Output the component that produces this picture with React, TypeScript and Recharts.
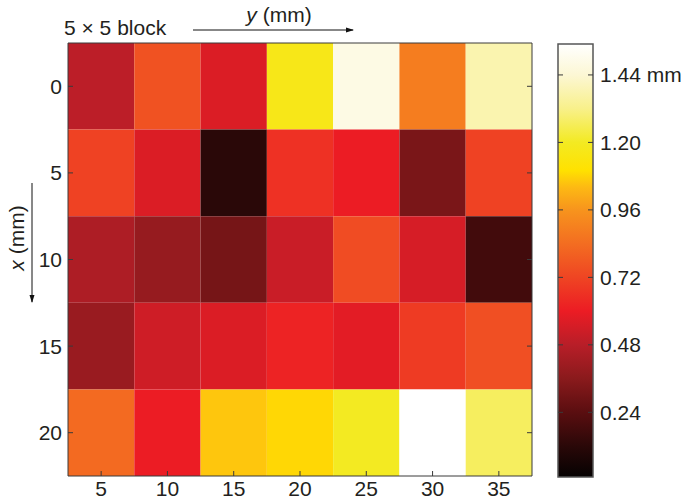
import React from "react";
import { ScatterChart, Scatter, XAxis, YAxis, ReferenceArea } from "recharts";

// column positions (y, mm) and row positions (x, mm)
const yCols = [5, 10, 15, 20, 25, 30, 35];
const xRows = [0, 5, 10, 15, 20];

// block values (mm), one list per row
const row0 = [0.49, 0.76, 0.56, 1.17, 1.48, 0.89, 1.38];
const row5 = [0.71, 0.56, 0.12, 0.66, 0.6, 0.32, 0.71];
const row10 = [0.45, 0.39, 0.31, 0.52, 0.74, 0.55, 0.18];
const row15 = [0.4, 0.53, 0.56, 0.62, 0.58, 0.69, 0.75];
const row20 = [0.83, 0.6, 1.06, 1.085, 1.2, 1.55, 1.27];
const rows = [row0, row5, row10, row15, row20];

const colorbarTicks = [0.24, 0.48, 0.72, 0.96, 1.2, 1.44];
const vMin = 0.01;
const vMax = 1.55;

// "hot"-like colormap
const cmap: [number, string][] = [
  [0.01, "#050202"],
  [0.12, "#2a0808"],
  [0.24, "#5a0e10"],
  [0.36, "#8a1a1c"],
  [0.48, "#b81e28"],
  [0.6, "#ec1c24"],
  [0.72, "#ef4523"],
  [0.84, "#f36d21"],
  [0.96, "#f7941d"],
  [1.04, "#fdb913"],
  [1.1, "#ffe100"],
  [1.2, "#f3ea22"],
  [1.32, "#f8f08a"],
  [1.44, "#fcf7d4"],
  [1.55, "#ffffff"],
];

const hex = (c: string) => [1, 3, 5].map((i) => parseInt(c.slice(i, i + 2), 16));
const colorFor = (v: number) => {
  if (v <= cmap[0][0]) return cmap[0][1];
  for (let i = 1; i < cmap.length; i++) {
    if (v <= cmap[i][0]) {
      const [a, ca] = cmap[i - 1];
      const [b, cb] = cmap[i];
      const t = (v - a) / (b - a);
      const A = hex(ca);
      const B = hex(cb);
      const m = A.map((x, k) => Math.round(x + (B[k] - x) * t));
      return `rgb(${m[0]},${m[1]},${m[2]})`;
    }
  }
  return cmap[cmap.length - 1][1];
};

const cells = rows.flatMap((r, i) =>
  r.map((v, j) => ({ y: yCols[j], x: xRows[i], v }))
);

const FONT = "'Liberation Sans', Arial, Helvetica, sans-serif";
const AXIS = "#3a3a3a";
const TXT = "#231f20";

const BottomTick = (props: any) => {
  const { x, y, payload } = props;
  return (
    <g>
      <line x1={x} y1={y} x2={x} y2={y - 5} stroke={AXIS} />
      <text x={x} y={y + 20} textAnchor="middle" fontSize={21} fill={TXT} fontFamily={FONT}>
        {payload.value}
      </text>
    </g>
  );
};

const LeftTick = (props: any) => {
  const { x, y, payload } = props;
  return (
    <g>
      <line x1={x} y1={y} x2={x + 5} y2={y} stroke={AXIS} />
      <text x={x - 6} y={y + 7.5} textAnchor="end" fontSize={21} fill={TXT} fontFamily={FONT}>
        {payload.value}
      </text>
    </g>
  );
};

const TopTickLine = (props: any) => (
  <line x1={props.x} y1={props.y} x2={props.x} y2={props.y + 5} stroke={AXIS} />
);
const RightTickLine = (props: any) => (
  <line x1={props.x} y1={props.y} x2={props.x - 5} y2={props.y} stroke={AXIS} />
);
const LeftTickLine = (props: any) => (
  <line x1={props.x} y1={props.y} x2={props.x + 5} y2={props.y} stroke={AXIS} />
);

const BarTick = (props: any) => {
  const { x, y, payload } = props;
  const v = Number(payload.value).toFixed(2);
  return (
    <g>
      <line x1={x} y1={y} x2={x - 5} y2={y} stroke={AXIS} />
      <text x={x + 7} y={y + 7.5} textAnchor="start" fontSize={21} fill={TXT} fontFamily={FONT}>
        {v === "1.44" ? "1.44 mm" : v}
      </text>
    </g>
  );
};

function Heatmap() {
  return (
    <ScatterChart width={560} height={500} margin={{ top: 42, right: 27, bottom: 0, left: 0 }}>
      <XAxis
        xAxisId="b"
        type="number"
        dataKey="y"
        domain={[2.5, 37.5]}
        ticks={yCols}
        allowDataOverflow
        height={24}
        tickSize={0}
        tickMargin={0}
        tickLine={false}
        stroke={AXIS}
        tick={<BottomTick />}
      />
      <XAxis
        xAxisId="t"
        orientation="top"
        type="number"
        domain={[2.5, 37.5]}
        ticks={yCols}
        allowDataOverflow
        height={1}
        tickSize={0}
        tickMargin={0}
        tickLine={false}
        stroke={AXIS}
        tick={<TopTickLine />}
      />
      <YAxis
        yAxisId="l"
        type="number"
        dataKey="x"
        reversed
        domain={[-2.5, 22.5]}
        ticks={xRows}
        allowDataOverflow
        width={68}
        tickSize={0}
        tickMargin={0}
        tickLine={false}
        stroke={AXIS}
        tick={<LeftTick />}
      />
      <YAxis
        yAxisId="r"
        orientation="right"
        type="number"
        reversed
        domain={[-2.5, 22.5]}
        ticks={xRows}
        allowDataOverflow
        width={1}
        tickSize={0}
        tickMargin={0}
        tickLine={false}
        stroke={AXIS}
        tick={<RightTickLine />}
      />
      {cells.map((c, i) => (
        <ReferenceArea
          key={i}
          xAxisId="b"
          yAxisId="l"
          x1={c.y - 2.5}
          x2={c.y + 2.5}
          y1={c.x - 2.5}
          y2={c.x + 2.5}
          fill={colorFor(c.v)}
          fillOpacity={1}
          stroke="none"
        />
      ))}
      <Scatter
        xAxisId="b"
        yAxisId="l"
        data={cells}
        isAnimationActive={false}
        shape={() => <g />}
      />
    </ScatterChart>
  );
}

// gradient stops must run in increasing offset order (top = max value)
const gradStops = [...cmap].reverse().map(([v, c]) => ({
  offset: `${((vMax - v) / (vMax - vMin)) * 100}%`,
  color: c,
}));

function Colorbar() {
  const barData = [{ a: 0.5, b: vMin }, { a: 0.5, b: vMax }];
  return (
    <ScatterChart width={153} height={500} margin={{ top: 44, right: 0, bottom: 23, left: 0 }}>
      <XAxis type="number" dataKey="a" domain={[0, 1]} hide />
      <YAxis
        yAxisId="l"
        type="number"
        domain={[vMin, vMax]}
        ticks={colorbarTicks}
        allowDataOverflow
        width={18}
        tickSize={0}
        tickMargin={0}
        tickLine={false}
        axisLine={false}
        tick={<LeftTickLine />}
      />
      <YAxis
        yAxisId="r"
        orientation="right"
        type="number"
        dataKey="b"
        domain={[vMin, vMax]}
        ticks={colorbarTicks}
        allowDataOverflow
        width={100}
        tickSize={0}
        tickMargin={0}
        tickLine={false}
        axisLine={false}
        tick={<BarTick />}
      />
      <ReferenceArea
        yAxisId="r"
        x1={0}
        x2={1}
        y1={vMin}
        y2={vMax}
        fill="url(#hotGrad)"
        fillOpacity={1}
        stroke="#555"
        strokeWidth={1.5}
      />
      <Scatter yAxisId="r" data={barData} isAnimationActive={false} shape={() => <g />} />
    </ScatterChart>
  );
}

export default function App() {
  return (
    <div style={{ position: "absolute", left: 0, top: 0, width: 693, height: 500, background: "#fff" }}>
      <svg width={0} height={0} style={{ position: "absolute" }}>
        <defs>
          <linearGradient id="hotGrad" x1="0" y1="0" x2="0" y2="1">
            {gradStops.map((s, i) => (
              <stop key={i} offset={s.offset} stopColor={s.color} />
            ))}
          </linearGradient>
        </defs>
      </svg>
      <div style={{ position: "absolute", left: 0, top: 0 }}>
        <Heatmap />
      </div>
      <div style={{ position: "absolute", left: 540, top: 0 }}>
        <Colorbar />
      </div>
      <svg
        width={693}
        height={500}
        style={{ position: "absolute", left: 0, top: 0, pointerEvents: "none" }}
        fontFamily={FONT}
        fill={TXT}
      >
        <defs>
          <marker id="arr" markerWidth="8" markerHeight="8" refX="7" refY="4" orient="auto" markerUnits="userSpaceOnUse">
            <path d="M0,1.5 L8,4 L0,6.5 Z" fill="#111" />
          </marker>
        </defs>
        <text x={64} y={35} fontSize={21}>5 × 5 block</text>
        <text x={279} y={22} fontSize={21} textAnchor="middle">
          <tspan fontStyle="italic">y</tspan> (mm)
        </text>
        <line x1={193} y1={30} x2={353} y2={30} stroke="#111" strokeWidth={1} markerEnd="url(#arr)" />
        <text
          x={0}
          y={0}
          fontSize={21}
          textAnchor="middle"
          dominantBaseline="central"
          transform="translate(16,238) rotate(-90)"
        >
          <tspan fontStyle="italic">x</tspan> (mm)
        </text>
        <line x1={32} y1={183} x2={32} y2={302} stroke="#111" strokeWidth={1} markerEnd="url(#arr)" />
      </svg>
    </div>
  );
}
